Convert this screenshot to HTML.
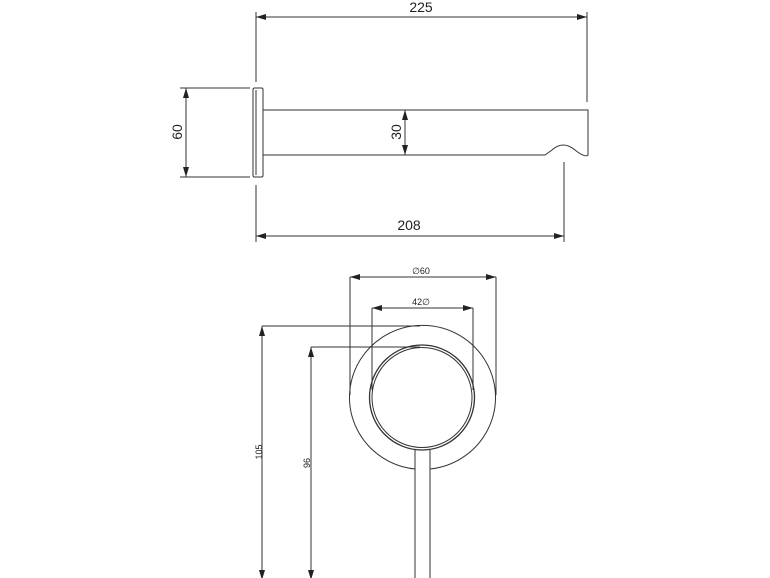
<!DOCTYPE html>
<html><head><style>body{margin:0;background:#fff}svg{display:block}</style></head><body>
<svg width="770" height="578" viewBox="0 0 770 578" xmlns="http://www.w3.org/2000/svg" font-family="Liberation Sans, sans-serif">
<defs>
<marker id="a" viewBox="0 0 10 6" refX="10" refY="3" markerWidth="10" markerHeight="6" orient="auto-start-reverse" markerUnits="userSpaceOnUse"><path d="M0,0L10,3L0,6z" fill="#222"/></marker>
</defs>
<g stroke="#333" stroke-width="1" fill="none">
<line x1="256" y1="12" x2="256" y2="82"/>
<line x1="587" y1="12" x2="587" y2="102"/>
<line x1="256" y1="17" x2="587" y2="17" marker-start="url(#a)" marker-end="url(#a)"/>
<rect x="253" y="88" width="10" height="89" rx="1.5"/>
<line x1="256" y1="90" x2="256" y2="175"/>
<path d="M263,110 L588,110 L588,155 Q585,158 575,150 Q563,140 552,150 L545,155 L263,155"/>
<line x1="180" y1="88" x2="250" y2="88"/>
<line x1="180" y1="177" x2="250" y2="177"/>
<line x1="186" y1="88" x2="186" y2="177" marker-start="url(#a)" marker-end="url(#a)"/>
<line x1="405" y1="110" x2="405" y2="155" marker-start="url(#a)" marker-end="url(#a)"/>
<line x1="256" y1="185" x2="256" y2="242"/>
<line x1="564" y1="162" x2="564" y2="242"/>
<line x1="256" y1="236" x2="564" y2="236" marker-start="url(#a)" marker-end="url(#a)"/>
<line x1="350" y1="277" x2="350" y2="395"/>
<line x1="496" y1="277" x2="496" y2="395"/>
<line x1="350" y1="277" x2="496" y2="277" marker-start="url(#a)" marker-end="url(#a)"/>
<line x1="372" y1="308" x2="372" y2="390"/>
<line x1="473" y1="308" x2="473" y2="390"/>
<line x1="372" y1="308" x2="473" y2="308" marker-start="url(#a)" marker-end="url(#a)"/>
<path d="M415,469 A73,72 0 1 1 430,469"/>
<circle cx="422" cy="397.5" r="52.5" stroke-width="1.3"/>
<circle cx="422" cy="397.5" r="50"/>
<line x1="415" y1="450" x2="415" y2="578"/>
<line x1="430" y1="450" x2="430" y2="578"/>
<line x1="262" y1="326" x2="420" y2="326"/>
<line x1="262" y1="326" x2="262" y2="580" marker-start="url(#a)" marker-end="url(#a)"/>
<line x1="311" y1="347" x2="420" y2="347"/>
<line x1="311" y1="347" x2="311" y2="580" marker-start="url(#a)" marker-end="url(#a)"/>
</g>
<g fill="#222">
<text x="421" y="12" font-size="14" text-anchor="middle">225</text>
<text x="409" y="230" font-size="14" text-anchor="middle">208</text>
<text transform="translate(182,132) rotate(-90)" font-size="14" text-anchor="middle">60</text>
<text transform="translate(401,132) rotate(-90)" font-size="14" text-anchor="middle">30</text>
<text x="421" y="274" font-size="9" text-anchor="middle">∅60</text>
<text x="421" y="305" font-size="9" text-anchor="middle">42∅</text>
<text transform="translate(262,452) rotate(-90)" font-size="9" text-anchor="middle">105</text>
<text transform="translate(310,463) rotate(-90)" font-size="9" text-anchor="middle">96</text>
</g>
</svg>
</body></html>
